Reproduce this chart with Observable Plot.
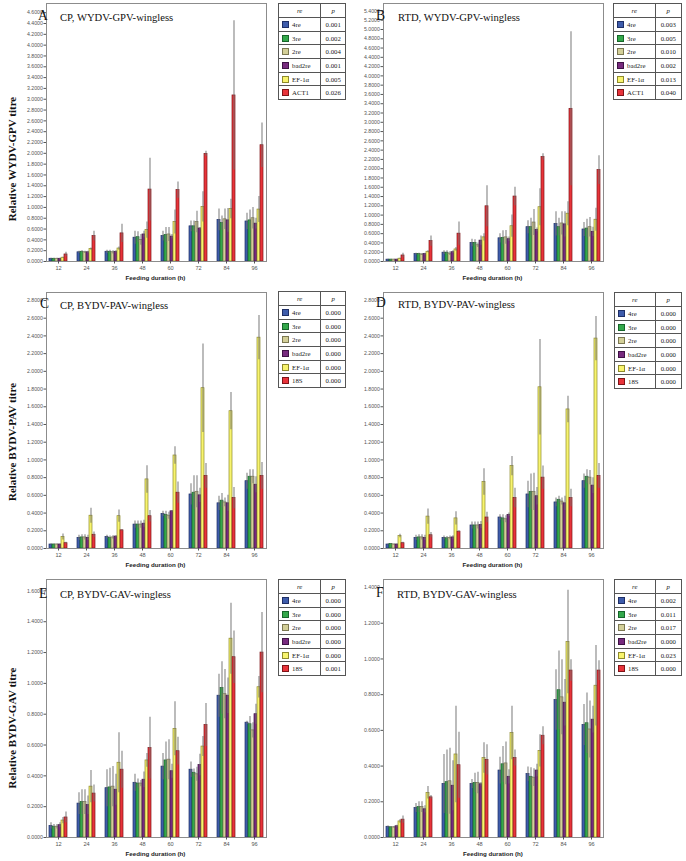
<!DOCTYPE html>
<html><head><meta charset="utf-8">
<script src="https://cdn.jsdelivr.net/npm/d3@7"></script>
<script src="https://cdn.jsdelivr.net/npm/@observablehq/plot@0.6"></script>
<style>
body{margin:0;background:#fff;width:686px;height:861px;position:relative;overflow:hidden;font-family:"Liberation Serif",serif}
.abs{position:absolute}
.ylab{position:absolute;font:bold 11px "Liberation Serif",serif;white-space:nowrap;transform:translate(-50%,-50%) rotate(-90deg);color:#111}
.xlab{position:absolute;font:bold 6.2px "Liberation Sans",sans-serif;white-space:nowrap;transform:translate(-50%,-50%);color:#222}
.letter{position:absolute;font:13.6px "Liberation Serif",serif;line-height:1;white-space:nowrap;color:#111}
.ttl{position:absolute;font:10.6px "Liberation Serif",serif;line-height:1;white-space:nowrap;color:#111}
table.leg{position:absolute;border-collapse:collapse;font:6.8px "Liberation Serif",serif;background:#fff;color:#222}
table.leg td{border:1px solid #555;padding:0;white-space:nowrap}
table.leg td.h{text-align:center;font-style:italic}
table.leg td.p{text-align:center}
table.leg td.n{padding-left:3px}
.sw{display:inline-block;width:5px;height:5px;margin-right:3px;vertical-align:-1px;border:1px solid #333}
</style>
</head><body>
<script>
// ---------- data ----------
const times = [12, 24, 36, 48, 60, 72, 84, 96];
const seriesACT = ["4re", "3re", "2re", "bad2re", "EF-1α", "ACT1"];
const series18S = ["4re", "3re", "2re", "bad2re", "EF-1α", "18S"];

// Panel A: CP, WYDV-GPV-wingless (rows follow series order)
const meanA = [
  [0.05,0.17,0.18,0.44,0.47,0.65,0.77,0.74],
  [0.05,0.18,0.18,0.45,0.49,0.65,0.71,0.76],
  [0.05,0.17,0.17,0.40,0.50,0.73,0.78,0.80],
  [0.05,0.17,0.18,0.50,0.46,0.61,0.76,0.70],
  [0.07,0.23,0.24,0.58,0.73,1.01,0.97,0.96],
  [0.13,0.47,0.52,1.33,1.32,1.99,3.07,2.15]];
const errA = [
  [0.01,0.02,0.03,0.12,0.09,0.10,0.20,0.15],
  [0.01,0.02,0.03,0.10,0.14,0.10,0.13,0.19],
  [0.01,0.02,0.03,0.10,0.13,0.20,0.19,0.20],
  [0.01,0.02,0.02,0.06,0.04,0.02,0.22,0.10],
  [0.01,0.02,0.03,0.15,0.22,0.28,0.18,0.24],
  [0.04,0.09,0.17,0.58,0.15,0.05,1.38,0.41]];
const pA = ["0.001","0.002","0.004","0.001","0.005","0.026"];

// Panel B: RTD, WYDV-GPV-wingless
const meanB = [
  [0.04,0.16,0.19,0.40,0.50,0.74,0.81,0.69],
  [0.04,0.16,0.19,0.40,0.51,0.74,0.74,0.71],
  [0.04,0.15,0.17,0.35,0.52,0.84,0.82,0.74],
  [0.04,0.16,0.20,0.45,0.48,0.68,0.80,0.64],
  [0.06,0.21,0.26,0.52,0.76,1.17,1.03,0.90],
  [0.13,0.44,0.60,1.19,1.40,2.25,3.29,1.97]];
const errB = [
  [0.01,0.02,0.04,0.08,0.10,0.14,0.26,0.15],
  [0.01,0.02,0.04,0.07,0.15,0.19,0.19,0.20],
  [0.01,0.02,0.04,0.05,0.15,0.28,0.25,0.21],
  [0.01,0.02,0.03,0.10,0.05,0.04,0.27,0.10],
  [0.01,0.02,0.04,0.08,0.24,0.40,0.26,0.25],
  [0.05,0.11,0.25,0.44,0.20,0.07,1.66,0.31]];
const pB = ["0.003","0.005","0.010","0.002","0.013","0.040"];

// Panel C: CP, BYDV-PAV-wingless
const meanC = [
  [0.045,0.12,0.13,0.27,0.39,0.61,0.51,0.76],
  [0.045,0.125,0.12,0.27,0.38,0.63,0.54,0.81],
  [0.045,0.125,0.125,0.27,0.37,0.64,0.52,0.81],
  [0.045,0.12,0.135,0.28,0.42,0.60,0.51,0.72],
  [0.13,0.37,0.365,0.78,1.05,1.81,1.55,2.38],
  [0.06,0.155,0.205,0.365,0.63,0.82,0.57,0.82]];
const errC = [
  [0.005,0.03,0.02,0.04,0.03,0.12,0.08,0.09],
  [0.005,0.03,0.02,0.04,0.04,0.19,0.08,0.08],
  [0.005,0.03,0.02,0.04,0.04,0.18,0.05,0.08],
  [0.005,0.03,0.01,0.04,0.01,0.08,0.09,0.09],
  [0.035,0.085,0.07,0.155,0.10,0.50,0.21,0.25],
  [0.01,0.03,0.01,0.065,0.12,0.14,0.12,0.15]];
const pC = ["0.000","0.000","0.000","0.000","0.000","0.000"];

// Panel D: RTD, BYDV-PAV-wingless
const meanD = [
  [0.045,0.12,0.12,0.26,0.35,0.61,0.52,0.76],
  [0.05,0.125,0.115,0.26,0.34,0.64,0.55,0.81],
  [0.045,0.125,0.12,0.26,0.33,0.64,0.53,0.80],
  [0.045,0.12,0.125,0.265,0.38,0.59,0.51,0.71],
  [0.14,0.36,0.34,0.75,0.93,1.82,1.57,2.37],
  [0.06,0.15,0.19,0.35,0.57,0.80,0.57,0.82]];
const errD = [
  [0.005,0.03,0.02,0.04,0.03,0.15,0.05,0.08],
  [0.005,0.03,0.02,0.04,0.04,0.20,0.04,0.08],
  [0.005,0.03,0.02,0.04,0.04,0.21,0.04,0.08],
  [0.005,0.03,0.02,0.04,0.02,0.10,0.08,0.09],
  [0.02,0.085,0.075,0.15,0.11,0.54,0.15,0.25],
  [0.01,0.03,0.01,0.06,0.11,0.13,0.10,0.14]];
const pD = ["0.000","0.000","0.000","0.000","0.000","0.000"];

// Panel E: CP, BYDV-GAV-wingless
const meanE = [
  [0.075,0.22,0.32,0.355,0.46,0.44,0.92,0.745],
  [0.07,0.23,0.325,0.35,0.50,0.42,0.97,0.735],
  [0.07,0.23,0.33,0.35,0.505,0.41,0.93,0.695],
  [0.08,0.21,0.31,0.375,0.43,0.47,0.92,0.80],
  [0.11,0.33,0.485,0.50,0.705,0.59,1.29,0.975],
  [0.13,0.285,0.44,0.58,0.56,0.73,1.17,1.20]];
const errE = [
  [0.02,0.07,0.12,0.055,0.085,0.05,0.14,0.01],
  [0.015,0.08,0.125,0.03,0.12,0.025,0.17,0.05],
  [0.015,0.08,0.13,0.02,0.13,0.045,0.16,0.05],
  [0.015,0.06,0.10,0.05,0.045,0.07,0.115,0.065],
  [0.02,0.105,0.195,0.045,0.175,0.065,0.23,0.07],
  [0.035,0.055,0.12,0.20,0.09,0.14,0.17,0.26]];
const pE = ["0.000","0.000","0.000","0.000","0.000","0.001"];

// Panel F: RTD, BYDV-GAV-wingless
const meanF = [
  [0.06,0.165,0.30,0.30,0.375,0.355,0.77,0.63],
  [0.057,0.17,0.31,0.305,0.41,0.34,0.825,0.64],
  [0.057,0.17,0.315,0.305,0.415,0.335,0.785,0.605],
  [0.063,0.158,0.29,0.298,0.34,0.375,0.755,0.66],
  [0.09,0.25,0.465,0.445,0.585,0.485,1.095,0.85],
  [0.10,0.225,0.405,0.435,0.445,0.57,0.935,0.935]];
const errF = [
  [0.005,0.025,0.165,0.025,0.075,0.04,0.17,0.115],
  [0.005,0.03,0.18,0.055,0.10,0.05,0.22,0.17],
  [0.005,0.03,0.185,0.06,0.12,0.05,0.21,0.16],
  [0.005,0.02,0.14,0.01,0.04,0.035,0.13,0.075],
  [0.01,0.035,0.27,0.085,0.15,0.09,0.29,0.225],
  [0.02,0.01,0.185,0.085,0.045,0.05,0.06,0.055]];
const pF = ["0.002","0.011","0.017","0.000","0.023","0.000"];

// ---------- styles ----------
const fills = ["#3e5cab", "#33a84a", "#d3cf98", "#772a7e", "#f8f46e", "#e8333a"];
const strokes = ["#1f2f66", "#17652a", "#7c7852", "#3e1245", "#8e8a2c", "#7e1418"];

const panels = [
  {letter:"A", title:"CP, WYDV-GPV-wingless", ylabel:"Relative WYDV-GPV titre", series:seriesACT, mean:meanA, err:errA, p:pA,
   left:0, top:0, width:279, ml:33, plotH:258, ymax:4.77, tickMax:4.6, po:0.446, ylabY:159,
   legL:278, legT:3, c1:43, c2:25, letterXY:[38,20.7], titleXY:[60,22.3]},
  {letter:"B", title:"RTD, WYDV-GPV-wingless", ylabel:null, series:seriesACT, mean:meanB, err:errB, p:pB,
   left:343, top:0, width:271, ml:29, plotH:258, ymax:5.56, tickMax:5.4, po:0.375,
   legL:613, legT:3, c1:42, c2:27, letterXY:[376,20.7], titleXY:[398,22.3]},
  {letter:"C", title:"CP, BYDV-PAV-wingless", ylabel:"Relative BYDV-PAV titre", series:series18S, mean:meanC, err:errC, p:pC,
   left:0, top:289, width:279, ml:33, plotH:256, ymax:2.89, tickMax:2.8, po:0.446, ylabY:442,
   legL:278, legT:291, c1:43, c2:25, letterXY:[40,308.3], titleXY:[60,310]},
  {letter:"D", title:"RTD, BYDV-PAV-wingless", ylabel:null, series:series18S, mean:meanD, err:errD, p:pD,
   left:343, top:289, width:271, ml:29, plotH:256, ymax:2.89, tickMax:2.8, po:0.375,
   legL:614, legT:292, c1:41, c2:27, letterXY:[376,307.7], titleXY:[398,309]},
  {letter:"E", title:"CP, BYDV-GAV-wingless", ylabel:"Relative BYDV-GAV titre", series:series18S, mean:meanE, err:errE, p:pE,
   left:0, top:576, width:279, ml:33, plotH:258, ymax:1.674, tickMax:1.6, po:0.446, ylabY:728,
   legL:278, legT:579, c1:43, c2:25, letterXY:[39,598.3], titleXY:[60,599.3]},
  {letter:"F", title:"RTD, BYDV-GAV-wingless", ylabel:null, series:series18S, mean:meanF, err:errF, p:pF,
   left:343, top:576, width:272, ml:29, plotH:258, ymax:1.445, tickMax:1.4, po:0.375,
   legL:614, legT:579, c1:41, c2:27, letterXY:[376,597.3], titleXY:[397,599]}
];

const fmt = d3.format(".4f");

function addDiv(cls, text, x, y) {
  const d = document.createElement("div");
  d.className = cls; d.textContent = text;
  d.style.left = x + "px"; d.style.top = y + "px";
  document.body.appendChild(d);
  return d;
}

for (const P of panels) {
  const rows = [];
  P.series.forEach((s, i) => times.forEach((t, j) => rows.push({
    time: t, series: s, idx: i, mean: P.mean[i][j],
    low: Math.max(0, P.mean[i][j] - P.err[i][j]), high: P.mean[i][j] + P.err[i][j]
  })));
  const nT = Math.round(P.tickMax / 0.2);
  const yTicks = d3.range(0, nT + 1).map(k => +(k * 0.2).toFixed(4));
  const mt = 3, mb = 29;
  const chart = Plot.plot({
    width: P.width, height: mt + P.plotH + mb,
    marginLeft: P.ml, marginRight: 1, marginTop: mt, marginBottom: mb,
    fx: {domain: times, paddingInner: 0.143, paddingOuter: P.po, label: null},
    x: {domain: P.series, padding: 0.06, axis: null},
    y: {domain: [0, P.ymax], label: null},
    color: {type: "identity"},
    style: {background: "transparent", overflow: "visible"},
    marks: [
      Plot.barY(rows, {fx: "time", x: "series", y: "mean",
        fill: d => fills[d.idx], stroke: d => strokes[d.idx], strokeWidth: 0.7}),
      Plot.ruleX(rows, {fx: "time", x: "series", y1: "low", y2: "high",
        stroke: "#6f6f6f", strokeOpacity: 0.55, strokeWidth: 1.7}),
      Plot.frame({facet: "super", stroke: "#8c8c8c"}),
      Plot.axisY({ticks: yTicks, tickFormat: fmt, tickSize: 2.5, tickPadding: 1.2,
        fontSize: 5.2, fontFamily: "Liberation Sans, sans-serif", color: "#555", label: null}),
      Plot.axisFx({anchor: "bottom", tickSize: 2.5, tickPadding: 2,
        fontSize: 5.6, fontFamily: "Liberation Sans, sans-serif", color: "#555", label: null})
    ]
  });
  chart.style.position = "absolute";
  chart.style.left = P.left + "px";
  chart.style.top = P.top + "px";
  document.body.appendChild(chart);

  const plotLeft = P.left + P.ml, plotRight = P.left + P.width - 1;
  const plotBottom = P.top + mt + P.plotH;
  addDiv("xlab", "Feeding duration (h)", (plotLeft + plotRight) / 2, plotBottom + 16);
  if (P.ylabel) addDiv("ylab", P.ylabel, 12, P.ylabY);
  addDiv("letter", P.letter, P.letterXY[0], P.letterXY[1] - 0.84 * 13.6);
  addDiv("ttl", P.title, P.titleXY[0], P.titleXY[1] - 0.84 * 10.6);

  // legend table
  const tb = document.createElement("table");
  tb.className = "leg";
  tb.style.left = P.legL + "px"; tb.style.top = P.legT + "px";
  tb.style.width = (P.c1 + P.c2) + "px";
  const hr = tb.insertRow(); hr.style.height = "14px";
  const h1 = hr.insertCell(); h1.className = "h"; h1.textContent = "re"; h1.style.width = P.c1 + "px";
  const h2 = hr.insertCell(); h2.className = "h"; h2.textContent = "p"; h2.style.width = P.c2 + "px";
  P.series.forEach((s, i) => {
    const r = tb.insertRow(); r.style.height = "13.7px";
    const c = r.insertCell(); c.className = "n";
    const sw = document.createElement("span"); sw.className = "sw";
    sw.style.background = fills[i]; sw.style.borderColor = strokes[i];
    c.appendChild(sw); c.appendChild(document.createTextNode(s));
    const c2 = r.insertCell(); c2.className = "p"; c2.textContent = P.p[i];
  });
  document.body.appendChild(tb);
}
</script>
</body></html>
